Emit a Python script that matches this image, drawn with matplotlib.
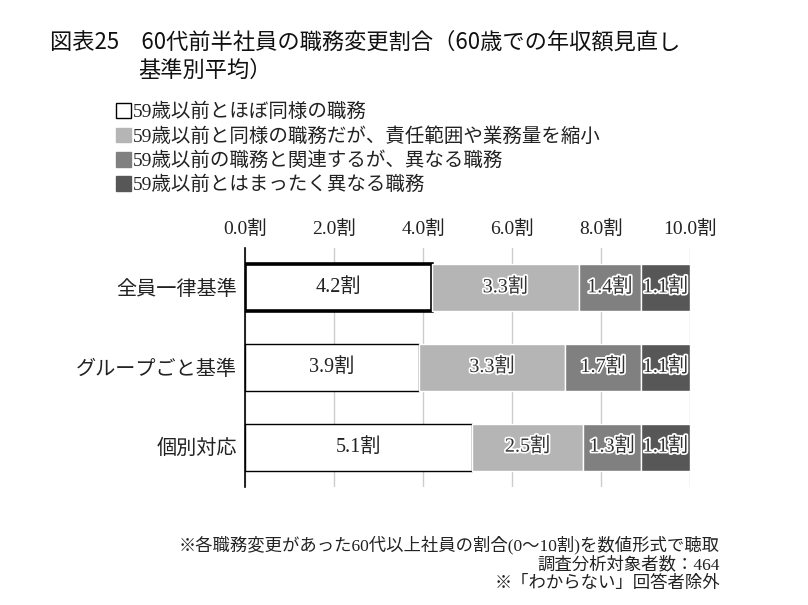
import matplotlib
matplotlib.use("Agg")
import matplotlib.pyplot as plt
import matplotlib.patheffects as pe
from matplotlib.patches import Patch
import numpy as np

SERIF = ['Liberation Serif', 'Noto Sans CJK JP', 'DejaVu Sans']
SANS = ['Noto Sans CJK JP', 'DejaVu Sans']
plt.rcParams['font.family'] = SERIF

categories = ["全員一律基準", "グループごと基準", "個別対応"]
series_names = [
    "59歳以前とほぼ同様の職務",
    "59歳以前と同様の職務だが、責任範囲や業務量を縮小",
    "59歳以前の職務と関連するが、異なる職務",
    "59歳以前とはまったく異なる職務",
]
values = [
    [4.2, 3.9, 5.1],
    [3.3, 3.3, 2.5],
    [1.4, 1.7, 1.3],
    [1.1, 1.1, 1.1],
]
tick_values = [0, 2, 4, 6, 8, 10]
tick_labels = ["0.0割", "2.0割", "4.0割", "6.0割", "8.0割", "10.0割"]
colors = ["#ffffff", "#b5b5b5", "#808080", "#575757"]

title_line1 = "図表25　60代前半社員の職務変更割合（60歳での年収額見直し"
title_line2 = "基準別平均）"
notes = [
    "※各職務変更があった60代以上社員の割合(0～10割)を数値形式で聴取",
    "調査分析対象者数：464",
    "※「わからない」回答者除外",
]

fig = plt.figure(figsize=(8.08, 6.05), dpi=100)
ax = fig.add_axes([245/808, 1-487/605, 445/808, 239/605])

y = np.arange(len(categories))
left = np.zeros(len(categories))
for si, (vals, col) in enumerate(zip(values, colors)):
    for ci, v in enumerate(vals):
        if si == 0:
            lw = 2.6 if ci == 0 else 1.0
            ax.barh(y[ci], v, left=left[ci], height=0.59, color=col,
                    edgecolor="black", linewidth=lw, zorder=3)
        else:
            ax.barh(y[ci], v, left=left[ci], height=0.59, color=col,
                    edgecolor="white", linewidth=1.0, zorder=3)
        txt = f"{v:.1f}割"
        if si == 0:
            ax.text(left[ci] + v/2, y[ci], txt, ha="center", va="center",
                    fontsize=14.5, color="#222222", zorder=5)
        else:
            ax.text(left[ci] + v/2, y[ci], txt, ha="center", va="center",
                    fontsize=14.5, color="#333333", zorder=5,
                    path_effects=[pe.withStroke(linewidth=2.5, foreground="white")])
        left[ci] += v

ax.set_xlim(0, 10)
ax.set_ylim(2.5, -0.5)
ax.set_xticks(tick_values)
ax.set_xticklabels(tick_labels, fontsize=14, color="#222222")
ax.xaxis.tick_top()
ax.tick_params(axis="x", length=0, pad=7)
ax.set_yticks(y)
ax.set_yticklabels(categories, fontsize=14.5, color="#222222")
ax.tick_params(axis="y", length=0, pad=6)
ax.grid(axis="x", color="#cccccc", linewidth=1.0, zorder=0)
for s in ["top", "right", "bottom"]:
    ax.spines[s].set_visible(False)
ax.spines["left"].set_color("black")
ax.spines["left"].set_linewidth(1.2)
ax.spines["left"].set_zorder(4)

handles = [Patch(facecolor=colors[0], edgecolor="black", linewidth=1.0)] + \
          [Patch(facecolor=c, edgecolor=c) for c in colors[1:]]
fig.legend(handles, series_names, loc="upper left",
           bbox_to_anchor=(108/808, 1-95/605), frameon=False,
           fontsize=14, handlelength=0.78, handleheight=0.78,
           handletextpad=0.1, labelspacing=0.3, borderaxespad=0,
           labelcolor="#222222")

fig.text(50/808, 1-42/605, title_line1, fontsize=16, va="center", ha="left",
         color="#111111", family=SANS)
fig.text(138/808, 1-70/605, title_line2, fontsize=16, va="center", ha="left",
         color="#111111", family=SANS)

for i, n in enumerate(notes):
    fig.text(720/808, 1-(545 + i*19.5)/605, n, fontsize=12.5, ha="right",
             va="center", color="#222222")

fig.savefig("out.png", dpi=100)
